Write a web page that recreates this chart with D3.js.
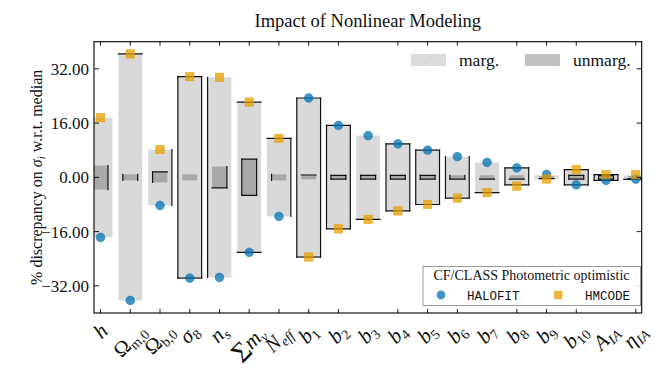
<!DOCTYPE html>
<html>
<head>
<meta charset="utf-8">
<script src="https://cdn.jsdelivr.net/npm/d3@7"></script>
<style>
  body { margin: 0; background: #fff; }
  svg { display: block; }
  text { font-family: "Liberation Serif", "DejaVu Serif", serif; fill: #111; }
  .mono { font-family: "Liberation Mono", "DejaVu Sans Mono", monospace; }
</style>
</head>
<body>
<div id="chart"></div>
<script>
// parameter names, "_" splits main symbol and subscript
const params = ['h', 'Ω_m,0', 'Ω_b,0', 'σ_8', 'n_s', 'Σm_ν', 'N_eff', 'b_1', 'b_2', 'b_3', 'b_4',
  'b_5', 'b_6', 'b_7', 'b_8', 'b_9', 'b_10', 'A_IA', 'η_IA'];

// % discrepancy of each code
const halofit = [-17.7, -36.3, -8.3, -29.7, -29.5, -22.1, -11.5, 23.4, 15.3, 12.3, 9.9, 8.0, 6.1, 4.4, 2.8, 0.9, -2.2, -0.9, -0.5];
const hmcode = [17.6, 36.4, 8.2, 29.7, 29.5, 22.2, 11.5, -23.5, -15.2, -12.4, -9.9, -8.0, -6.1, -4.5, -2.6, -0.5, 2.3, 0.8, 0.8];

// marginalised range
const margHi = [17.6, 36.4, 8.2, 29.7, 29.5, 22.2, 11.5, 23.4, 15.3, 12.3, 9.9, 8.0, 6.1, 4.4, 2.8, 0.6, 2.3, 0.8, 0.6];
const margLo = [-17.7, -36.3, -8.3, -29.7, -29.5, -22.1, -11.5, -23.5, -15.2, -12.4, -9.9, -8.0, -6.1, -4.5, -2.2, -0.6, -2.2, -0.9, -0.6];

// unmarginalised range
const unmHi = [3.5, 0.9, 1.6, 0.9, 3.2, 5.4, 0.9, 0.7, 0.6, 0.6, 0.6, 0.6, 0.6, 0.6, 0.6, 0.4, 0.6, 0.5, 0.4];
const unmLo = [-3.6, -0.9, -1.5, -0.9, -3.1, -5.3, -0.9, -0.6, -0.5, -0.5, -0.5, -0.5, -0.5, -0.5, -0.5, -0.4, -0.5, -0.5, -0.4];

// which sides of each box got a black edge (t b l r)
const margEdges = ['', 't', 'r', 'tblr', 'l', 'tb', 'tr', 'tblr', 'tblr', 'b', 'tblr', 'tblr', 'lrb', 'b', 'tblr', '', 'tblr', 'tblr', 'b'];
const unmEdges = ['r', 'lr', 'tl', '', 'rb', 'tblr', 'l', 't', 'tblr', 'tblr', 'tblr', 'tblr', 'lrb', 'b', 'b', 'b', 'tblr', 'tblr', 'b'];

const yTicks = [-32, -16, 0, 16, 32];
const hiddenTicks = [9, 13, 17];

const W = 666, H = 372;
const pLeft = 94, pRight = 641.7, pTop = 41.7, pBottom = 313;

const svg = d3.select('#chart').append('svg').attr('width', W).attr('height', H);

const x = d3.scaleLinear().domain([-0.22, 18.2]).range([pLeft, pRight]);
const y = d3.scaleLinear().domain([-40, 40]).range([pBottom, pTop]);
const unit = x(1) - x(0);

svg.append('clipPath').attr('id', 'clip')
  .append('rect').attr('x', pLeft).attr('y', pTop).attr('width', pRight - pLeft).attr('height', pBottom - pTop);

const plot = svg.append('g').attr('clip-path', 'url(#clip)');

const rows = params.map((p, i) => ({
  i, hf: halofit[i], hm: hmcode[i],
  mHi: margHi[i], mLo: margLo[i], uHi: unmHi[i], uLo: unmLo[i],
  mE: margEdges[i], uE: unmEdges[i]
}));

function box(g, cx, w, hi, lo, fill, edges) {
  const x0 = cx - w / 2, x1 = cx + w / 2, y0 = y(hi), y1 = y(lo);
  g.append('rect').attr('x', x0).attr('y', y0).attr('width', w).attr('height', y1 - y0).attr('fill', fill);
  const segs = {t: [x0, y0, x1, y0], b: [x0, y1, x1, y1], l: [x0, y0, x0, y1], r: [x1, y0, x1, y1]};
  edges.split('').forEach(e => {
    const s = segs[e];
    g.append('line').attr('x1', s[0]).attr('y1', s[1]).attr('x2', s[2]).attr('y2', s[3])
      .attr('stroke', '#111').attr('stroke-width', 1.2).attr('stroke-linecap', 'square');
  });
}

rows.forEach(d => {
  const g = plot.append('g');
  box(g, x(d.i), 0.8 * unit, d.mHi, d.mLo, '#d9d9d9', d.mE);
  box(g, x(d.i), 0.5 * unit, d.uHi, d.uLo, 'rgba(0,0,0,0.22)', d.uE);
});

// points
plot.selectAll('circle.hf').data(rows).enter().append('circle')
  .attr('class', 'hf')
  .attr('cx', d => x(d.i)).attr('cy', d => y(d.hf)).attr('r', 4.4)
  .attr('fill', '#0072B2').attr('fill-opacity', 0.75)
  .attr('stroke', '#0072B2').attr('stroke-opacity', 0.75).attr('stroke-width', 0.6);

plot.selectAll('rect.hm').data(rows).enter().append('rect')
  .attr('class', 'hm')
  .attr('x', d => x(d.i) - 4.2).attr('y', d => y(d.hm) - 4.2)
  .attr('width', 8.4).attr('height', 8.4)
  .attr('fill', '#E69F00').attr('fill-opacity', 0.75)
  .attr('stroke', '#E69F00').attr('stroke-opacity', 0.8).attr('stroke-width', 0.6);

// frame and ticks
svg.append('rect').attr('x', pLeft).attr('y', pTop).attr('width', pRight - pLeft).attr('height', pBottom - pTop)
  .attr('fill', 'none').attr('stroke', '#000').attr('stroke-width', 1.1);

const ticks = svg.append('g').attr('stroke', '#000').attr('stroke-width', 0.9);
params.forEach((p, i) => {
  if (hiddenTicks.includes(i)) return;
  ticks.append('line').attr('x1', x(i)).attr('x2', x(i)).attr('y1', pBottom).attr('y2', pBottom - 4);
  ticks.append('line').attr('x1', x(i)).attr('x2', x(i)).attr('y1', pTop).attr('y2', pTop + 4);
});
yTicks.forEach(v => {
  ticks.append('line').attr('x1', pLeft).attr('x2', pLeft + 5).attr('y1', y(v)).attr('y2', y(v));
  ticks.append('line').attr('x1', pRight).attr('x2', pRight - 5).attr('y1', y(v)).attr('y2', y(v));
});

svg.append('g').selectAll('text').data(yTicks).enter().append('text')
  .attr('x', pLeft - 5).attr('y', d => y(d)).attr('dy', '0.35em')
  .attr('text-anchor', 'end').attr('font-size', 17)
  .text(d => d3.format('.2f')(d));

// title
svg.append('text').attr('x', (pLeft + pRight) / 2).attr('y', 27)
  .attr('text-anchor', 'middle').attr('font-size', 18.5)
  .text('Impact of Nonlinear Modeling');

// y label
const yl = svg.append('text')
  .attr('transform', `translate(42,${(pTop + pBottom) / 2}) rotate(-90)`)
  .attr('text-anchor', 'middle').attr('font-size', 16);
yl.append('tspan').text('% discrepancy on ');
yl.append('tspan').attr('font-style', 'italic').text('σ');
yl.append('tspan').attr('font-style', 'italic').attr('font-size', 11).attr('dy', 3).text('i');
yl.append('tspan').attr('dy', -3).text(' w.r.t. median');

// x labels, rotated 45 degrees and centred under each tick
const upright = ['m,0', 'b,0', '8', '1', '2', '3', '4', '5', '6', '7', '9', '10'];
params.forEach((p, i) => {
  const [main, sub] = p.split('_');
  const g = svg.append('g').attr('transform', `translate(${x(i)},322)`);
  const t = g.append('text').attr('transform', 'rotate(-45)').attr('text-anchor', 'middle').attr('font-size', 21);
  if (main[0] === 'Σ') {
    t.append('tspan').attr('font-size', 28).attr('dy', 3).text('Σ');
    t.append('tspan').attr('font-style', 'italic').attr('dy', -3).text(main.slice(1));
  } else {
    t.append('tspan').attr('font-style', main === 'Ω' ? 'normal' : 'italic').text(main);
  }
  if (sub) {
    t.append('tspan').attr('font-size', 14).attr('dy', 4)
      .attr('font-style', upright.includes(sub) ? 'normal' : 'italic').text(sub);
  }
  const b = g.node().getBoundingClientRect();
  const dx = x(i) - (b.left + b.right) / 2;
  const dy = 319 - b.top;
  g.attr('transform', `translate(${x(i) + dx},${322 + dy})`);
});

// top legend
const defs = svg.append('defs');
const pat = defs.append('pattern').attr('id', 'hatch').attr('patternUnits', 'userSpaceOnUse')
  .attr('width', 8).attr('height', 8).attr('patternTransform', 'rotate(45)');
pat.append('rect').attr('width', 8).attr('height', 8).attr('fill', '#dcdcdc');
pat.append('line').attr('x1', 0).attr('y1', 0).attr('x2', 0).attr('y2', 8).attr('stroke', '#cfcfcf').attr('stroke-width', 1);
const leg1 = svg.append('g');
leg1.append('rect').attr('x', 411).attr('y', 54).attr('width', 35).attr('height', 12).attr('fill', 'url(#hatch)');
leg1.append('text').attr('x', 459).attr('y', 65.5).attr('font-size', 17.5).text('marg.');
leg1.append('rect').attr('x', 525).attr('y', 54).attr('width', 35).attr('height', 12).attr('fill', '#c0c0c0');
leg1.append('text').attr('x', 573).attr('y', 65.5).attr('font-size', 17.5).text('unmarg.');

// bottom legend
const leg2 = svg.append('g');
leg2.append('rect').attr('x', 423).attr('y', 266.5).attr('width', 217.5).attr('height', 39)
  .attr('fill', '#fff').attr('fill-opacity', 0.85).attr('stroke', '#9a9a9a').attr('stroke-width', 1);
leg2.append('text').attr('x', 531.5).attr('y', 280).attr('text-anchor', 'middle').attr('font-size', 14)
  .text('CF/CLASS Photometric optimistic');
leg2.append('circle').attr('cx', 441).attr('cy', 295).attr('r', 4.4)
  .attr('fill', '#0072B2').attr('fill-opacity', 0.75);
leg2.append('text').attr('class', 'mono').attr('x', 467).attr('y', 299.5).attr('font-size', 12.5).text('HALOFIT');
leg2.append('rect').attr('x', 554).attr('y', 290.8).attr('width', 8.4).attr('height', 8.4)
  .attr('fill', '#E69F00').attr('fill-opacity', 0.75);
leg2.append('text').attr('class', 'mono').attr('x', 585).attr('y', 299.5).attr('font-size', 12.5).text('HMCODE');
</script>
</body>
</html>
